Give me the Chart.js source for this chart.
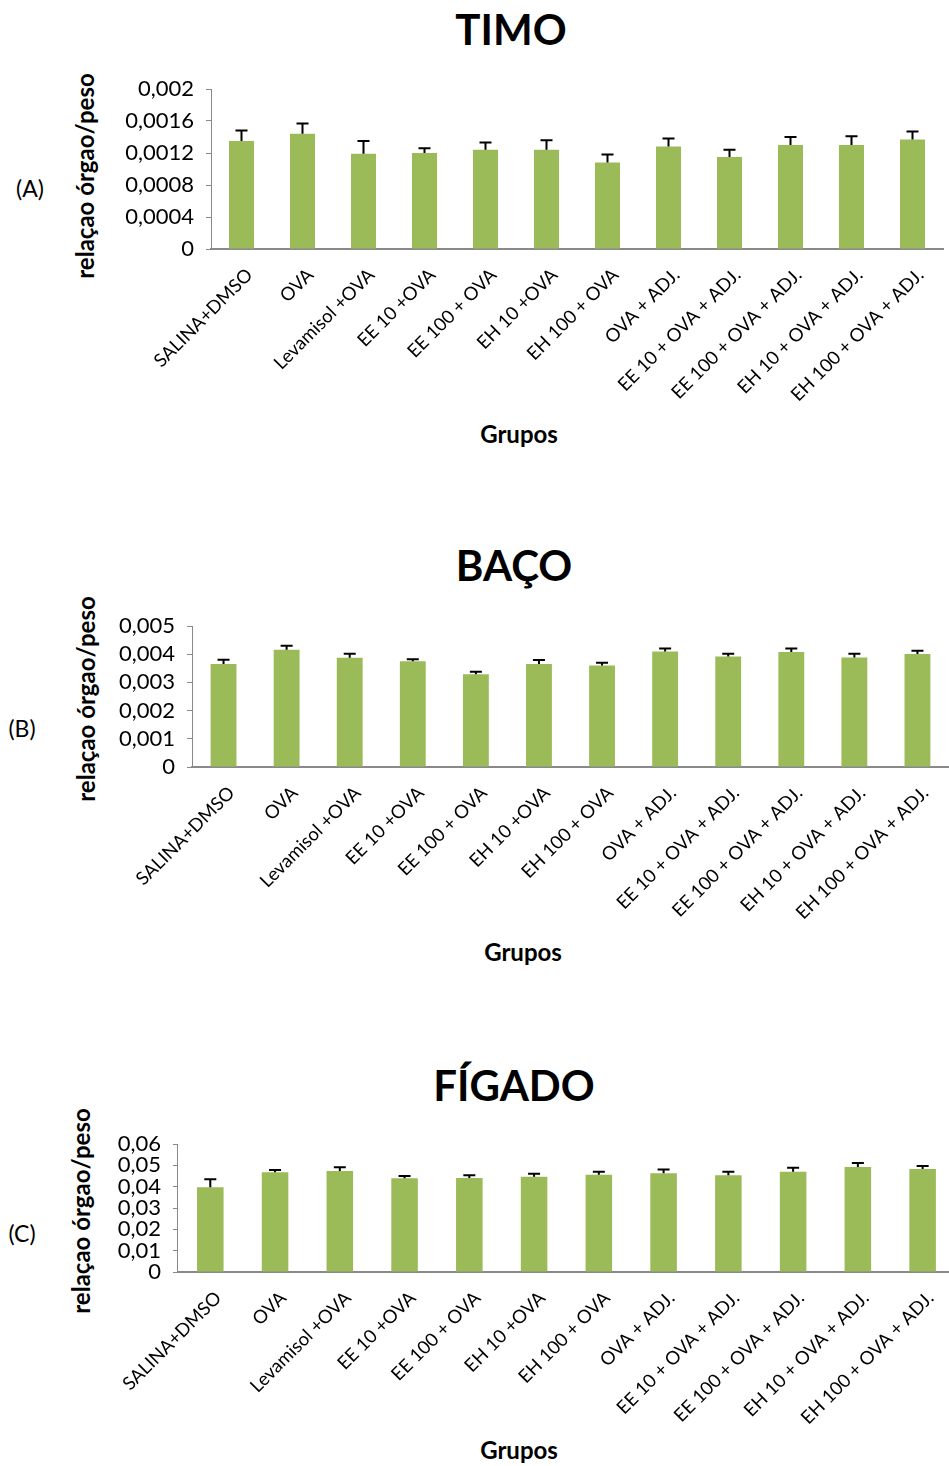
<!DOCTYPE html>
<html lang="pt">
<head>
    <meta charset="UTF-8">
    <title>Relação órgão/peso</title>
    <style>
        html, body {
            margin: 0;
            padding: 0;
            background: #fff;
            overflow: hidden;
        }
        body {
            font-family: Lato, sans-serif;
            width: 949px;
            height: 1466px;
            position: relative;
        }
        canvas {
            position: absolute;
        }
        .lbl {
            position: absolute;
            white-space: nowrap;
            line-height: 1;
            transform: translate(-50%, -50%);
            color: #000;
        }
        .titulo { font-size: 42px; font-weight: bold; }
        .eixo { font-size: 24px; font-weight: bold; }
        .vertical { transform: translate(-50%, -50%) rotate(-90deg); }
        .painel { font-size: 23px; }
    </style>
</head>
<body>

<div class="lbl titulo" style="left:511px; top:29px;">TIMO</div>
<div class="lbl titulo" style="left:514px; top:565px;">BAÇO</div>
<div class="lbl titulo" style="left:514px; top:1085px;">FÍGADO</div>

<div class="lbl painel" style="left:30px; top:188px;">(A)</div>
<div class="lbl painel" style="left:22px; top:728px;">(B)</div>
<div class="lbl painel" style="left:22px; top:1233px;">(C)</div>

<div class="lbl eixo vertical" style="left:85px; top:176px;">relaçao órgao/peso</div>
<div class="lbl eixo vertical" style="left:86px; top:699px;">relaçao órgao/peso</div>
<div class="lbl eixo vertical" style="left:81px; top:1211px;">relaçao órgao/peso</div>

<div class="lbl eixo" style="left:519px; top:434px;">Grupos</div>
<div class="lbl eixo" style="left:523px; top:952px;">Grupos</div>
<div class="lbl eixo" style="left:519px; top:1450px;">Grupos</div>

<canvas id="timo" width="838" height="400" style="left:111px; top:60px;"></canvas>
<canvas id="baco" width="849" height="384" style="left:100px; top:596px;"></canvas>
<canvas id="figado" width="855" height="352" style="left:100px; top:1114px;"></canvas>

<script src="https://cdn.jsdelivr.net/npm/chart.js"></script>
<script>
    const grupos = [
        'SALINA+DMSO', 'OVA', 'Levamisol +OVA', 'EE 10 +OVA', 'EE 100 + OVA', 'EH 10 +OVA',
        'EH 100 + OVA', 'OVA + ADJ.', 'EE 10 + OVA + ADJ.', 'EE 100 + OVA + ADJ.',
        'EH 10 + OVA + ADJ.', 'EH 100 + OVA + ADJ.'
    ];

    // médias e erro padrão (só a barra superior é desenhada)
    const timoMedia = [0.00135, 0.00144, 0.00119, 0.00120, 0.00124, 0.00124, 0.00108, 0.00128, 0.00115, 0.00130, 0.00130, 0.00137];
    const timoErro  = [0.00013, 0.00013, 0.00016, 0.00006, 0.00009, 0.00012, 0.00010, 0.00010, 0.00009, 0.00010, 0.00011, 0.00010];
    const timoTicks = [0, 0.0004, 0.0008, 0.0012, 0.0016, 0.002];

    const bacoMedia = [0.00365, 0.00416, 0.00387, 0.00375, 0.00329, 0.00365, 0.00360, 0.00410, 0.00392, 0.00408, 0.00388, 0.00401];
    const bacoErro  = [0.00015, 0.00014, 0.00015, 0.00007, 0.00009, 0.00014, 0.00010, 0.00010, 0.00010, 0.00012, 0.00014, 0.00011];
    const bacoTicks = [0, 0.001, 0.002, 0.003, 0.004, 0.005];

    const figadoMedia = [0.0397, 0.0467, 0.0473, 0.0439, 0.0441, 0.0447, 0.0456, 0.0463, 0.0453, 0.0470, 0.0492, 0.0483];
    const figadoErro  = [0.0038, 0.0011, 0.0018, 0.0011, 0.0012, 0.0014, 0.0014, 0.0017, 0.0017, 0.0019, 0.0019, 0.0014];
    const figadoTicks = [0, 0.01, 0.02, 0.03, 0.04, 0.05, 0.06];

    const VERDE = '#9bbb59';
    const CINZA = '#898989';

    // barras de erro positivas com traço no topo
    const barrasErro = {
        id: 'barrasErro',
        afterDatasetsDraw(chart) {
            const ctx = chart.ctx;
            const y = chart.scales.y;
            const erros = chart.options.plugins.barrasErro.erros;
            const meta = chart.getDatasetMeta(0);
            const dados = chart.data.datasets[0].data;
            ctx.save();
            ctx.strokeStyle = '#000';
            ctx.lineWidth = 2;
            meta.data.forEach((bar, i) => {
                const topo = y.getPixelForValue(dados[i] + erros[i]);
                ctx.beginPath();
                ctx.moveTo(bar.x, bar.y);
                ctx.lineTo(bar.x, topo);
                ctx.moveTo(bar.x - 6, topo);
                ctx.lineTo(bar.x + 6, topo);
                ctx.stroke();
            });
            ctx.restore();
        }
    };

    function formatar(v) {
        return String(+v.toFixed(5)).replace('.', ',');
    }

    function grafico(id, media, erro, ticks, larguraY, alturaX, padTopo, padDir) {
        return new Chart(document.getElementById(id), {
            type: 'bar',
            data: {
                labels: grupos,
                datasets: [{
                    data: media,
                    backgroundColor: VERDE,
                    borderWidth: 0,
                    categoryPercentage: 0.41,
                    barPercentage: 1
                }]
            },
            options: {
                responsive: false,
                animation: false,
                devicePixelRatio: 1,
                layout: { padding: { top: padTopo, right: padDir, left: 0, bottom: 0 } },
                plugins: {
                    legend: { display: false },
                    tooltip: { enabled: false },
                    barrasErro: { erros: erro }
                },
                scales: {
                    x: {
                        grid: { display: false, drawTicks: false, tickLength: 0 },
                        border: { display: true, color: CINZA, width: 2 },
                        ticks: {
                            autoSkip: false,
                            maxRotation: 45,
                            minRotation: 45,
                            padding: 15,
                            labelOffset: 8,
                            color: '#000',
                            font: { family: 'Lato', size: 18.5 }
                        },
                        afterFit(s) { s.height = alturaX; }
                    },
                    y: {
                        min: 0,
                        max: ticks[ticks.length - 1],
                        grid: { drawOnChartArea: false, drawTicks: true, tickLength: 5, color: CINZA },
                        border: { display: true, color: CINZA, width: 1 },
                        ticks: {
                            autoSkip: false,
                            padding: 12,
                            color: '#000',
                            font: { family: 'Lato', size: 22 },
                            callback: (v) => formatar(v)
                        },
                        afterBuildTicks(s) { s.ticks = ticks.map(v => ({ value: v })); },
                        afterFit(s) { s.width = larguraY; }
                    }
                }
            },
            plugins: [barrasErro]
        });
    }

    grafico('timo', timoMedia, timoErro, timoTicks, 100, 211, 29, 6);
    grafico('baco', bacoMedia, bacoErro, bacoTicks, 92, 213, 30, 0);
    grafico('figado', figadoMedia, figadoErro, figadoTicks, 73, 194, 30, 0);
</script>

</body>
</html>
